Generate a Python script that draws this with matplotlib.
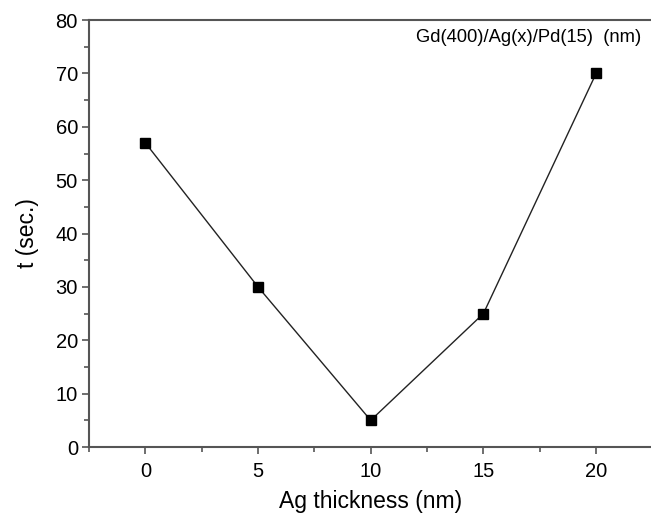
import matplotlib
matplotlib.use("Agg")
import matplotlib.pyplot as plt
from matplotlib.ticker import MultipleLocator

ag_thickness = [0, 5, 10, 15, 20]
t_sec = [57, 30, 5, 25, 70]

plt.rcParams['font.family'] = ['Liberation Sans', 'DejaVu Sans']

fig = plt.figure(figsize=(6.51, 5.15), dpi=100)
ax = fig.add_axes([0.1367, 0.132, 0.8655, 0.829])

ax.plot(ag_thickness, t_sec, color='#222222', lw=1.0, marker='s', ms=7,
        mfc='black', mec='black')

ax.set_xlim(-2.5, 22.5)
ax.set_ylim(0, 80)
ax.xaxis.set_major_locator(MultipleLocator(5))
ax.xaxis.set_minor_locator(MultipleLocator(2.5))
ax.yaxis.set_major_locator(MultipleLocator(10))
ax.yaxis.set_minor_locator(MultipleLocator(5))

spine_c = '#555555'
for s in ['left', 'bottom', 'top']:
    ax.spines[s].set_color(spine_c)
    ax.spines[s].set_linewidth(1.5)
ax.spines['right'].set_visible(False)

ax.tick_params(which='both', direction='out', color=spine_c, width=1.2,
               labelsize=14.5, top=False, right=False)
ax.tick_params(which='major', length=5)
ax.tick_params(which='minor', length=3.5)
ax.tick_params(axis='x', which='major', pad=6)
ax.tick_params(axis='y', which='major', pad=3)

ax.set_xlabel('Ag thickness (nm)', fontsize=16.5, labelpad=6)
ax.set_ylabel('t (sec.)', fontsize=16.5, labelpad=12)

ax.text(0.981, 0.959, 'Gd(400)/Ag(x)/Pd(15)  (nm)', transform=ax.transAxes,
        ha='right', va='center', fontsize=13.2)

fig.savefig('out.png', dpi=100)
